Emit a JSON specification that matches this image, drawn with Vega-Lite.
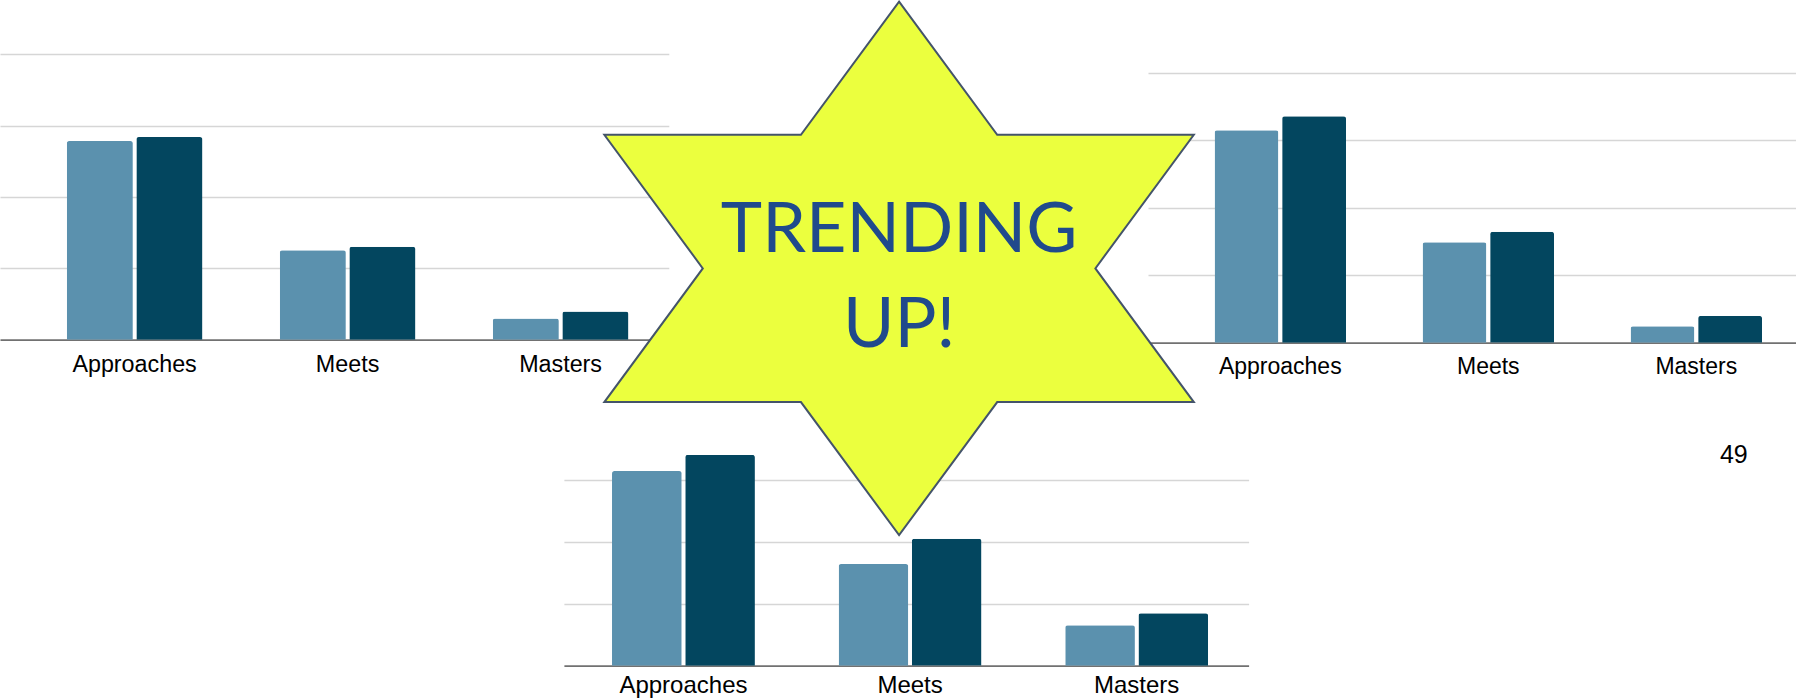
{
  "$schema": "https://vega.github.io/schema/vega-lite/v6.json",
  "width": 1796,
  "height": 698,
  "padding": 0,
  "autosize": {"type": "none"},
  "background": "#ffffff",
  "config": {"view": {"stroke": null}},
  "datasets": {
    "bars": [
      {"chart": "Chart 1", "level": "Approaches", "year": "Prior year", "pct": 69.6},
      {"chart": "Chart 1", "level": "Approaches", "year": "Current year", "pct": 71.0},
      {"chart": "Chart 1", "level": "Meets", "year": "Prior year", "pct": 31.3},
      {"chart": "Chart 1", "level": "Meets", "year": "Current year", "pct": 32.6},
      {"chart": "Chart 1", "level": "Masters", "year": "Prior year", "pct": 7.4},
      {"chart": "Chart 1", "level": "Masters", "year": "Current year", "pct": 9.9},
      {"chart": "Chart 2", "level": "Approaches", "year": "Prior year", "pct": 78.7},
      {"chart": "Chart 2", "level": "Approaches", "year": "Current year", "pct": 83.9},
      {"chart": "Chart 2", "level": "Meets", "year": "Prior year", "pct": 37.2},
      {"chart": "Chart 2", "level": "Meets", "year": "Current year", "pct": 41.1},
      {"chart": "Chart 2", "level": "Masters", "year": "Prior year", "pct": 6.1},
      {"chart": "Chart 2", "level": "Masters", "year": "Current year", "pct": 9.9},
      {"chart": "Chart 3", "level": "Approaches", "year": "Prior year", "pct": 78.5},
      {"chart": "Chart 3", "level": "Approaches", "year": "Current year", "pct": 85.0},
      {"chart": "Chart 3", "level": "Meets", "year": "Prior year", "pct": 41.0},
      {"chart": "Chart 3", "level": "Meets", "year": "Current year", "pct": 51.2},
      {"chart": "Chart 3", "level": "Masters", "year": "Prior year", "pct": 16.3},
      {"chart": "Chart 3", "level": "Masters", "year": "Current year", "pct": 21.1}
    ],
    "badge": [{"badge": "TRENDING\nUP!"}],
    "page": [{"page": "49"}]
  },
  "layer": [
    {
      "data": {"name": "bars"},
      "transform": [{"filter": "datum.chart === 'Chart 1'"}],
      "mark": {"type": "bar", "cornerRadiusTopLeft": 2.5, "cornerRadiusTopRight": 2.5},
      "encoding": {
        "x": {
          "field": "level", "type": "nominal", "sort": ["Approaches", "Meets", "Masters"],
          "scale": {"range": [0, 668.8], "paddingInner": 0.363, "paddingOuter": 0.2515, "align": 0.623},
          "axis": {"orient": "bottom", "offset": -358.3, "title": null, "ticks": false, "tickSize": 0, "labelPadding": 13.3, "labelFontSize": 23.3, "labelFont": "Liberation Sans", "labelColor": "#000000", "labelAngle": 0, "domainColor": "#717171", "domainWidth": 1.8, "grid": false}
        },
        "xOffset": {"field": "year", "type": "nominal", "sort": ["Prior year", "Current year"], "scale": {"paddingInner": 0.05}},
        "y": {
          "field": "pct", "type": "quantitative",
          "scale": {"domain": [0, 100], "range": [339.7, 54.3], "nice": false},
          "axis": {"orient": "left", "grid": true, "values": [25, 50, 75, 100], "labels": false, "ticks": false, "domain": false, "title": null, "gridColor": "#d6d6d6", "gridWidth": 1.5}
        },
        "color": {"field": "year", "type": "nominal", "scale": {"domain": ["Prior year", "Current year"], "range": ["#5B91AE", "#03465F"]}, "legend": null}
      }
    },
    {
      "data": {"name": "bars"},
      "transform": [{"filter": "datum.chart === 'Chart 2'"}],
      "mark": {"type": "bar", "cornerRadiusTopLeft": 2.5, "cornerRadiusTopRight": 2.5},
      "encoding": {
        "x": {
          "field": "level", "type": "nominal", "sort": ["Approaches", "Meets", "Masters"],
          "scale": {"range": [1148, 1796], "paddingInner": 0.368, "paddingOuter": 0.2417, "align": 0.662},
          "axis": {"orient": "bottom", "offset": -355.3, "title": null, "ticks": false, "tickSize": 0, "labelPadding": 12.8, "labelFontSize": 23, "labelFont": "Liberation Sans", "labelColor": "#000000", "labelAngle": 0, "domainColor": "#717171", "domainWidth": 1.8, "grid": false}
        },
        "xOffset": {"field": "year", "type": "nominal", "sort": ["Prior year", "Current year"], "scale": {"paddingInner": 0.055}},
        "y": {
          "field": "pct", "type": "quantitative",
          "scale": {"domain": [0, 100], "range": [342.7, 72.7], "nice": false},
          "axis": {"orient": "left", "grid": true, "values": [25, 50, 75, 100], "labels": false, "ticks": false, "domain": false, "title": null, "gridColor": "#d6d6d6", "gridWidth": 1.5}
        },
        "color": {"field": "year", "type": "nominal", "scale": {"domain": ["Prior year", "Current year"], "range": ["#5B91AE", "#03465F"]}, "legend": null}
      }
    },
    {
      "data": {"name": "bars"},
      "transform": [{"filter": "datum.chart === 'Chart 3'"}],
      "mark": {"type": "bar", "cornerRadiusTopLeft": 2.5, "cornerRadiusTopRight": 2.5},
      "encoding": {
        "x": {
          "field": "level", "type": "nominal", "sort": ["Approaches", "Meets", "Masters"],
          "scale": {"range": [563.9, 1248.6], "paddingInner": 0.3694, "paddingOuter": 0.1955, "align": 0.543},
          "axis": {"orient": "bottom", "offset": -32.3, "title": null, "ticks": false, "tickSize": 0, "labelPadding": 7.8, "labelFontSize": 24, "labelFont": "Liberation Sans", "labelColor": "#000000", "labelAngle": 0, "domainColor": "#717171", "domainWidth": 1.8, "grid": false}
        },
        "xOffset": {"field": "year", "type": "nominal", "sort": ["Prior year", "Current year"], "scale": {"paddingInner": 0.048}},
        "y": {
          "field": "pct", "type": "quantitative",
          "scale": {"domain": [0, 100], "range": [665.7, 417.7], "nice": false},
          "axis": {"orient": "left", "grid": true, "values": [25, 50, 75], "labels": false, "ticks": false, "domain": false, "title": null, "gridColor": "#d6d6d6", "gridWidth": 1.5}
        },
        "color": {"field": "year", "type": "nominal", "scale": {"domain": ["Prior year", "Current year"], "range": ["#5B91AE", "#03465F"]}, "legend": null}
      }
    },
    {
      "data": {"name": "badge"},
      "encoding": {
        "x": {"datum": 0.5006, "type": "quantitative", "scale": {"domain": [0, 1]}, "axis": null},
        "y": {"datum": 0.3845, "type": "quantitative", "scale": {"domain": [0, 1], "reverse": true}, "axis": null}
      },
      "layer": [
        {
          "mark": {
            "type": "point",
            "shape": "M0,-0.905L0.333,-0.4535L1,-0.4535L0.666,0L1,0.4535L0.333,0.4535L0,0.905L-0.333,0.4535L-1,0.4535L-0.666,0L-1,-0.4535L-0.333,-0.4535Z",
            "size": 347460,
            "filled": true,
            "fill": "#EBFF3E",
            "stroke": "#44546A",
            "strokeWidth": 2,
            "opacity": 1,
            "fillOpacity": 1,
            "strokeOpacity": 1
          }
        },
        {
          "mark": {
            "type": "text",
            "font": "Lato",
            "fontSize": 70,
            "color": "#204A8C",
            "align": "center",
            "baseline": "alphabetic",
            "lineBreak": "\n",
            "lineHeight": 95,
            "dy": -16.4
          },
          "encoding": {"text": {"field": "badge", "type": "nominal"}}
        }
      ]
    },
    {
      "data": {"name": "page"},
      "mark": {"type": "text", "font": "Liberation Sans", "fontSize": 25, "color": "#000000", "align": "center", "baseline": "middle"},
      "encoding": {
        "x": {"datum": 0.9654, "type": "quantitative", "scale": {"domain": [0, 1]}, "axis": null},
        "y": {"datum": 0.652, "type": "quantitative", "scale": {"domain": [0, 1], "reverse": true}, "axis": null},
        "text": {"field": "page", "type": "nominal"}
      }
    }
  ],
  "resolve": {
    "scale": {"x": "independent", "y": "independent", "xOffset": "independent"},
    "axis": {"x": "independent", "y": "independent"}
  }
}
